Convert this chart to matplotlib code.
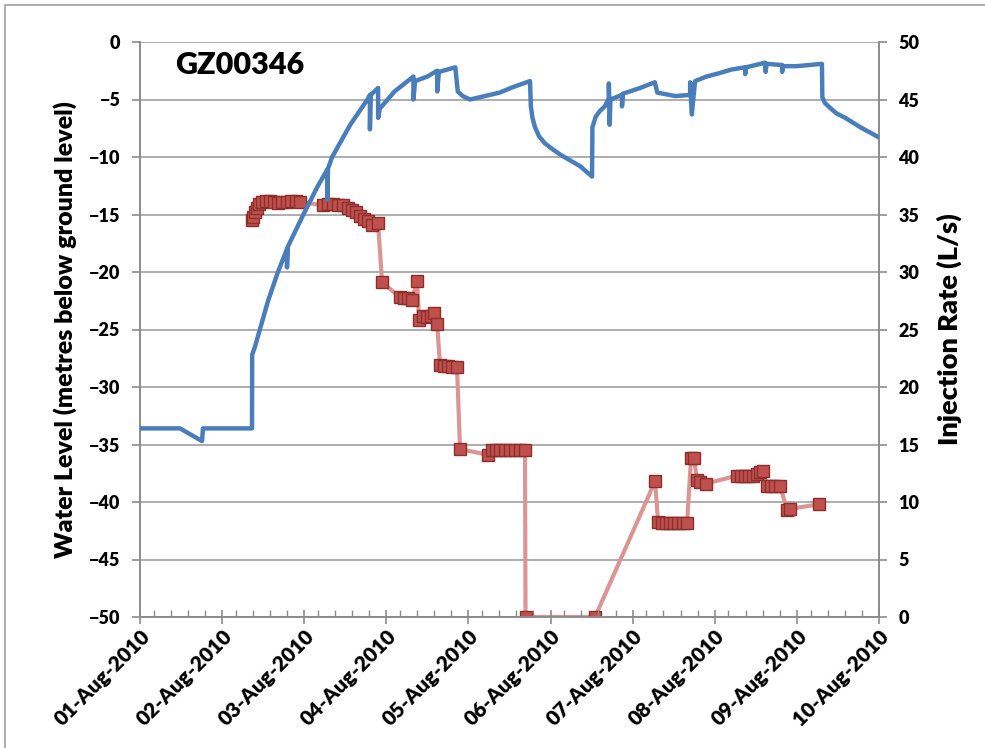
import numpy as np
import pandas as pd
import matplotlib
matplotlib.use('Agg')
import matplotlib.pyplot as plt
import matplotlib.dates as mdates
from matplotlib.patches import Rectangle

plt.rcParams['font.family'] = ['Lato', 'DejaVu Sans']

start = pd.Timestamp('2010-08-01')

# water level (days since 01-Aug-2010, m below ground level)
wl_days = [0.0, 0.487, 0.755, 0.767, 1.364, 1.366, 1.40, 1.46, 1.56, 1.68,
           1.79, 1.79, 1.80, 1.99, 2.16, 2.28, 2.28, 2.29, 2.34, 2.56,
           2.77, 2.80, 2.80, 2.81, 2.90, 2.90, 2.92, 3.10, 3.33, 3.33,
           3.35, 3.50, 3.62, 3.62, 3.64, 3.84, 3.87, 3.93, 4.02, 4.20,
           4.38, 4.55, 4.75, 4.76, 4.78, 4.81, 4.86, 4.93, 5.02, 5.12,
           5.24, 5.36, 5.505, 5.51, 5.55, 5.60, 5.66, 5.71, 5.71, 5.72,
           5.73, 5.87, 5.87, 5.88, 6.09, 6.27, 6.30, 6.52, 6.70, 6.70,
           6.72, 6.76, 6.90, 7.06, 7.20, 7.37, 7.37, 7.38, 7.50, 7.61,
           7.62, 7.63, 7.82, 7.82, 7.83, 8.00, 8.305, 8.31, 8.34, 8.40,
           8.48, 8.59, 8.77, 9.0]
wl_level = [-33.6, -33.6, -34.7, -33.6, -33.6, -27.2, -26.5, -25.0, -22.5, -20.0,
            -18.0, -19.6, -17.8, -15.0, -12.6, -11.1, -13.7, -11.0, -10.0, -7.2,
            -5.0, -4.6, -7.6, -4.6, -4.0, -6.6, -5.8, -4.3, -3.0, -5.0,
            -3.4, -3.0, -2.5, -4.3, -2.6, -2.2, -4.3, -4.7, -5.0, -4.7,
            -4.4, -3.9, -3.4, -5.6, -6.6, -7.4, -8.2, -8.8, -9.3, -9.8,
            -10.3, -10.8, -11.7, -7.4, -6.5, -6.0, -5.6, -4.9, -3.6, -7.2,
            -5.0, -4.6, -5.6, -4.5, -4.0, -3.5, -4.4, -4.7, -4.6, -3.5,
            -6.3, -3.4, -3.0, -2.7, -2.4, -2.2, -2.8, -2.2, -2.0, -1.8,
            -2.6, -1.9, -2.0, -2.6, -2.1, -2.1, -1.9, -4.8, -5.3, -5.7,
            -6.2, -6.6, -7.4, -8.3]

# injection rate (days since 01-Aug-2010, L/s)
inj_days = [1.364, 1.376, 1.401, 1.425, 1.449, 1.486, 1.535, 1.583, 1.632, 1.681,
            1.730, 1.790, 1.839, 1.900, 1.949, 2.229, 2.290, 2.351, 2.412, 2.473,
            2.533, 2.582, 2.631, 2.680, 2.728, 2.777, 2.826, 2.899, 2.948, 3.167,
            3.216, 3.264, 3.313, 3.374, 3.398, 3.447, 3.496, 3.544, 3.581, 3.618,
            3.654, 3.703, 3.752, 3.800, 3.861, 3.898, 4.239, 4.288, 4.336, 4.385,
            4.446, 4.507, 4.568, 4.629, 4.689, 4.695, 5.542, 6.273, 6.309, 6.358,
            6.407, 6.455, 6.504, 6.553, 6.614, 6.663, 6.711, 6.748, 6.784, 6.821,
            6.894, 7.272, 7.321, 7.369, 7.418, 7.467, 7.515, 7.552, 7.588, 7.637,
            7.686, 7.734, 7.795, 7.881, 7.917, 8.270]
inj_rate = [34.5, 34.8, 35.2, 35.6, 35.9, 36.1, 36.2, 36.2, 36.1, 36.0,
            36.1, 36.1, 36.2, 36.2, 36.1, 35.8, 35.9, 35.9, 35.8, 35.8,
            35.6, 35.4, 35.2, 34.9, 34.6, 34.4, 34.1, 34.3, 29.1, 27.8,
            27.7, 27.7, 27.6, 29.2, 25.8, 26.2, 26.1, 26.2, 26.4, 25.5,
            21.9, 21.8, 21.8, 21.7, 21.7, 14.6, 14.1, 14.5, 14.5, 14.5,
            14.5, 14.5, 14.5, 14.5, 14.5, 0.0, 0.0, 11.8, 8.3, 8.2,
            8.2, 8.2, 8.2, 8.2, 8.2, 8.2, 13.8, 13.8, 11.9, 11.7,
            11.6, 12.3, 12.3, 12.3, 12.3, 12.3, 12.4, 12.6, 12.7, 11.4,
            11.4, 11.4, 11.4, 9.3, 9.4, 9.8]

wl_t = start + pd.to_timedelta(wl_days, unit='D')
inj_t = start + pd.to_timedelta(inj_days, unit='D')

grey = '#8c8c8c'

fig = plt.figure(figsize=(9.85, 7.48), dpi=100)
ax = fig.add_axes([140/985, 131/748, 739/985, 575/748])
ax2 = ax.twinx()
ax.set_zorder(ax2.get_zorder() + 1)
ax.patch.set_visible(False)

# chart area border (Excel style)
fig.patches.append(Rectangle((5/985, -0.1), 1.2, (748 - 5)/748 + 0.1,
                             transform=fig.transFigure, fill=False,
                             edgecolor='#a6a6a6', linewidth=1.3))

ax.plot(wl_t, wl_level, color='#4a7ebb', linewidth=3.2, solid_joinstyle='round', zorder=3)
ax2.plot(inj_t, inj_rate, color='#d99694', linewidth=3, zorder=2,
         marker='s', markersize=9, markerfacecolor='#c0504d',
         markeredgecolor='#8b2e2c', markeredgewidth=1)

ax.set_ylim(-50, 0)
ax2.set_ylim(0, 50)
ax.set_yticks(np.arange(-50, 1, 5))
ax2.set_yticks(np.arange(0, 51, 5))
ax.set_xlim(start, start + pd.Timedelta(days=9))
ax.xaxis.set_major_locator(mdates.DayLocator())
ax.xaxis.set_minor_locator(mdates.HourLocator(byhour=[0, 4, 9, 14, 19]))
ax.xaxis.set_major_formatter(mdates.DateFormatter('%d-%b-%Y'))

ax2.grid(True, axis='y', color='#a0a0a0', linewidth=1.2)
ax2.set_axisbelow(True)

for a in (ax, ax2):
    for s in a.spines.values():
        s.set_color(grey)
        s.set_linewidth(1.2)
    a.spines['top'].set_visible(False)

ax.tick_params(axis='y', direction='out', length=6, color=grey, width=1.2,
               labelsize=13, pad=8)
ax2.tick_params(axis='y', direction='out', length=6, color=grey, width=1.2,
                labelsize=13, pad=8)
ax.tick_params(axis='x', which='major', direction='inout', length=10, color=grey,
               width=1.2, labelsize=15, pad=2)
ax.tick_params(axis='x', which='minor', direction='in', length=5, color=grey, width=1)

for lab in ax.get_yticklabels() + ax2.get_yticklabels() + ax.get_xticklabels():
    lab.set_fontweight('heavy')
for lab in ax.get_xticklabels():
    lab.set_rotation(45)
    lab.set_ha('right')
    lab.set_rotation_mode('anchor')

ax.set_ylabel('Water Level (metres below ground level)', fontsize=18,
              fontweight='heavy', labelpad=9)
ax2.set_ylabel('Injection Rate (L/s)', fontsize=19.5, fontweight='heavy', labelpad=12)

ax.text(0.048, 0.985, 'GZ00346', transform=ax.transAxes, fontsize=22,
        fontweight='heavy', va='top', ha='left')

fig.savefig('out.png', dpi=100)
